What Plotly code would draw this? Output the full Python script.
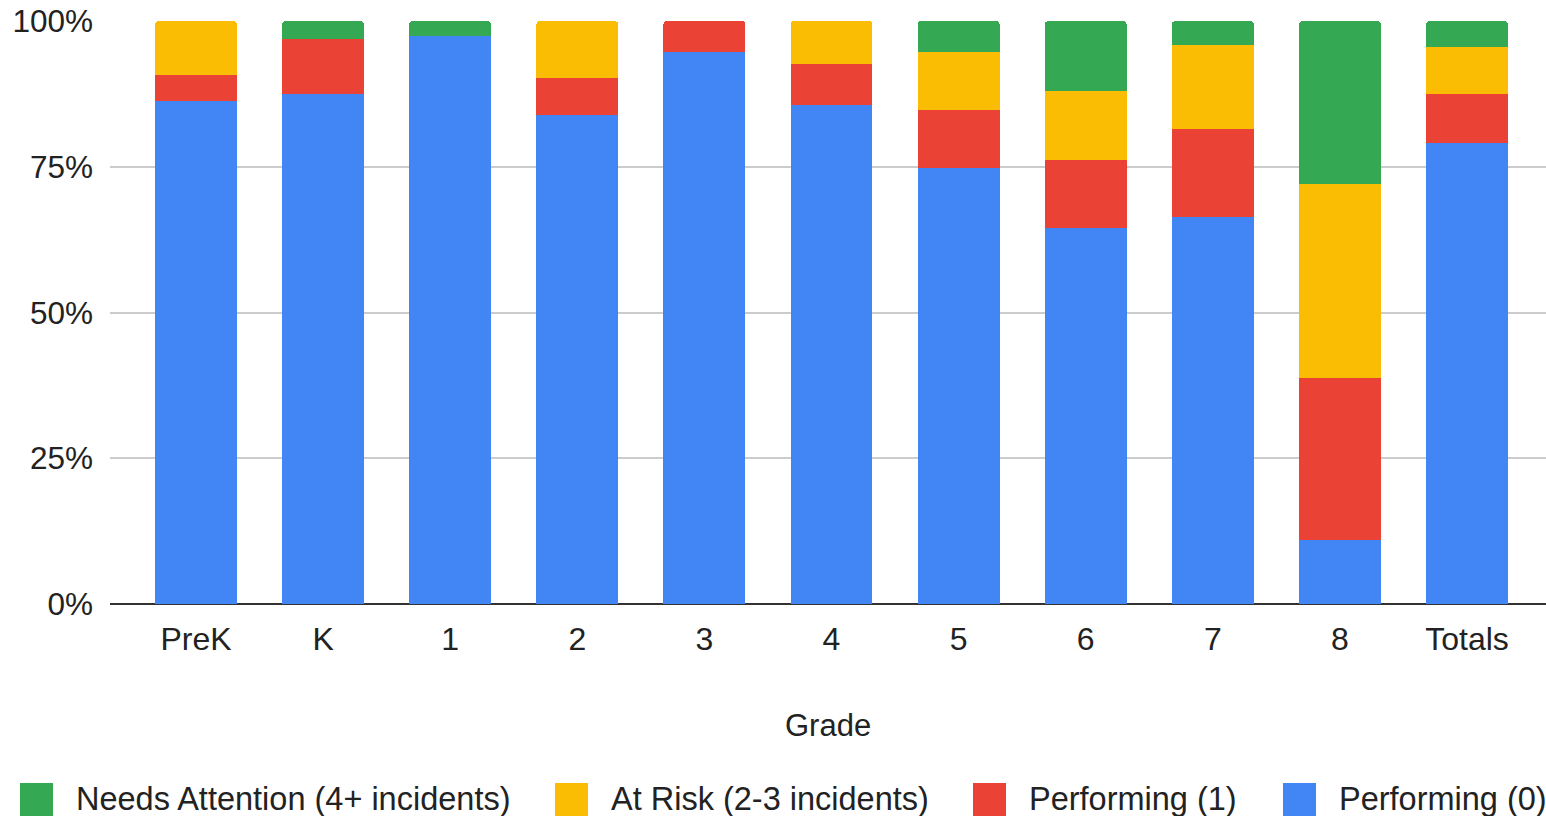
import plotly.graph_objects as go

grades = ["PreK", "K", "1", "2", "3", "4", "5", "6", "7", "8", "Totals"]
performing_0 = [86.2, 87.5, 97.4, 83.8, 94.6, 85.6, 74.8, 64.5, 66.3, 11.0, 79.0]
performing_1 = [4.6, 9.4, 0.0, 6.5, 5.4, 7.1, 9.9, 11.7, 15.1, 27.8, 8.5]
at_risk = [9.2, 0.0, 0.0, 9.7, 0.0, 7.3, 9.9, 11.8, 14.5, 33.2, 8.0]
needs_attention = [0.0, 3.1, 2.6, 0.0, 0.0, 0.0, 5.4, 12.0, 4.1, 28.0, 4.5]

series = [
    ("Performing (0)", performing_0, "#4285F4"),
    ("Performing (1)", performing_1, "#EA4335"),
    ("At Risk (2-3 incidents)", at_risk, "#FBBC04"),
    ("Needs Attention (4+ incidents)", needs_attention, "#34A853"),
]
legend_order = ["Needs Attention (4+ incidents)", "At Risk (2-3 incidents)", "Performing (1)", "Performing (0)"]
legend_swatch_px = [20, 555, 973, 1283]

W, H = 1546, 816
L, R, T, B = 110, 0, 21, 212
PW, PH = W - L - R, H - T - B

def px2x(x):
    return (x - L) / PW

def px2y(y):
    return (H - B - y) / PH

FONT = "Liberation Sans, Arial, sans-serif"
TXT = "#222222"

fig = go.Figure()
for name, vals, color in series:
    fig.add_trace(go.Bar(
        x=list(range(len(grades))), y=vals, name=name,
        marker=dict(color=color, line=dict(width=0)),
        showlegend=False,
        hovertemplate="%{y:.1f}%<extra>" + name + "</extra>",
    ))

colors = {n: c for n, _, c in series}
shapes = []
annotations = []
for name, sx in zip(legend_order, legend_swatch_px):
    shapes.append(dict(type="rect", xref="paper", yref="paper",
                       x0=px2x(sx), x1=px2x(sx + 33), y0=px2y(816), y1=px2y(783),
                       fillcolor=colors[name], line=dict(width=0), layer="above"))
    annotations.append(dict(text=name, xref="paper", yref="paper",
                            x=px2x(sx + 54), y=px2y(799), xanchor="left", yanchor="middle",
                            showarrow=False, font=dict(size=32.5, color=TXT, family=FONT)))

annotations.append(dict(text="Grade", xref="paper", yref="paper",
                        x=0.5, y=px2y(725), xanchor="center", yanchor="middle",
                        showarrow=False, font=dict(size=31, color=TXT, family=FONT)))

fig.update_layout(
    width=W, height=H,
    margin=dict(l=L, r=R, t=T, b=B, pad=0),
    barmode="stack", bargap=0.355, barcornerradius=4,
    plot_bgcolor="white", paper_bgcolor="white",
    font=dict(family=FONT, size=30, color=TXT),
    showlegend=False,
    shapes=shapes, annotations=annotations,
)
fig.update_xaxes(
    range=[-86 / 127.1, 10 + 79 / 127.1],
    tickmode="array", tickvals=list(range(len(grades))), ticktext=grades,
    showgrid=False, zeroline=False, showline=False, ticks="",
    tickfont=dict(size=32, color=TXT, family=FONT), ticklabelstandoff=13,
)
fig.update_yaxes(
    range=[0, 100], tickvals=[0, 25, 50, 75, 100], ticktext=["0%", "25%", "50%", "75%", "100%"],
    showgrid=True, gridcolor="#cccccc", gridwidth=2,
    zeroline=True, zerolinecolor="#333333", zerolinewidth=2,
    showline=False, ticks="", ticklabelstandoff=16,
    tickfont=dict(size=31.5, color=TXT, family=FONT),
)

fig.write_html("out.html", config={"displayModeBar": False},
               post_script="document.body.style.margin='0';document.body.style.overflow='hidden';")
